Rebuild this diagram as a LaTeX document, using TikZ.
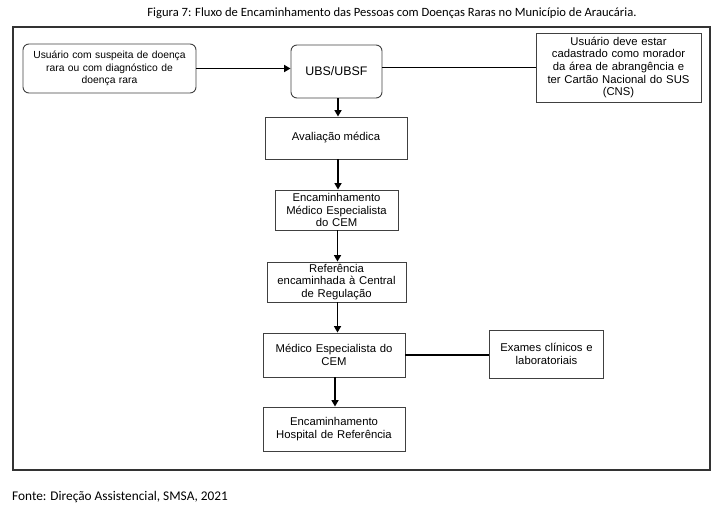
\documentclass[tikz,border=0pt]{standalone}
\usepackage{fontspec}
\setmainfont{Liberation Sans}
\newfontfamily\calib{Carlito}
\usetikzlibrary{arrows.meta,calc}
\tikzset{
  box/.style={draw=black!75, line width=0.9pt, align=center, inner sep=1pt,
    font=\fontsize{11.3}{12.8}\selectfont},
  rbox/.style={box, rounded corners=6pt},
  conn/.style={line width=1.8pt, black},
  arr/.style={conn, -{Triangle[length=6.5pt,width=7pt]}},
}
\begin{document}
\begin{tikzpicture}[x=1pt,y=-1pt]
\useasboundingbox (0,0) rectangle (714,524);
\node[font=\calib\fontsize{12.6}{15}\selectfont] (title) at (392,13) {Figura 7: Fluxo de Encaminhamento das Pessoas com Doenças Raras no Município de Araucária.};
\draw[black!80, line width=1.3pt] (13,27) rectangle (710,470);
\node[rbox, minimum width=173pt, minimum height=49pt, text width=165pt, font=\fontsize{10.3}{12.3}\selectfont] (usr) at (109.5,68.5) {Usuário com suspeita de doença\\rara ou com diagnóstico de\\doença rara};
\node[rbox, minimum width=91pt, minimum height=53pt, font=\fontsize{12.4}{14}\selectfont] (ubs) at (336.5,71.5) {UBS/UBSF};
\node[box, minimum width=165pt, minimum height=69pt, text width=160pt, font=\fontsize{11.3}{12.6}\selectfont] (cad) at (618.5,67.5) {Usuário deve estar\\cadastrado como morador\\da área de abrangência e\\ter Cartão Nacional do SUS\\(CNS)};
\node[box, minimum width=142pt, minimum height=42pt] (aval) at (336,138) {Avaliação médica};
\node[box, minimum width=123pt, minimum height=40pt, text width=120pt] (enc) at (336.5,210) {Encaminhamento\\Médico Especialista\\do CEM};
\node[box, minimum width=139pt, minimum height=40pt, text width=136pt] (ref) at (336.5,282) {Referência\\encaminhada à Central\\de Regulação};
\node[box, minimum width=142pt, minimum height=44pt, text width=138pt] (med) at (334,355) {Médico Especialista do\\CEM};
\node[box, minimum width=114pt, minimum height=48pt, text width=110pt] (exa) at (546.5,354) {Exames clínicos e\\laboratoriais};
\node[box, minimum width=142pt, minimum height=44pt, text width=138pt] (hos) at (334,429) {Encaminhamento\\Hospital de Referência};
\node[font=\calib\fontsize{13.3}{15}\selectfont, anchor=west, inner sep=0pt] (fonte) at (12,497) {Fonte: Direção Assistencial, SMSA, 2021};
\draw[arr] (usr.east) -- (usr.east -| ubs.west);
\draw[conn] (cad.west -| ubs.east) -- (cad.west);
\draw[arr] ([xshift=1.5pt]ubs.south) -- ([xshift=1.5pt]ubs.south |- aval.north);
\draw[arr] ([xshift=2pt]aval.south) -- ([xshift=2pt]aval.south |- enc.north);
\draw[arr] ([xshift=1pt]enc.south) -- ([xshift=1pt]enc.south |- ref.north);
\draw[arr] ([xshift=1pt]ref.south) -- ([xshift=1pt]ref.south |- med.north);
\draw[conn] (med.east) -- (med.east -| exa.west);
\draw[arr] ([xshift=1pt]med.south) -- ([xshift=1pt]med.south |- hos.north);
\end{tikzpicture}
\end{document}
